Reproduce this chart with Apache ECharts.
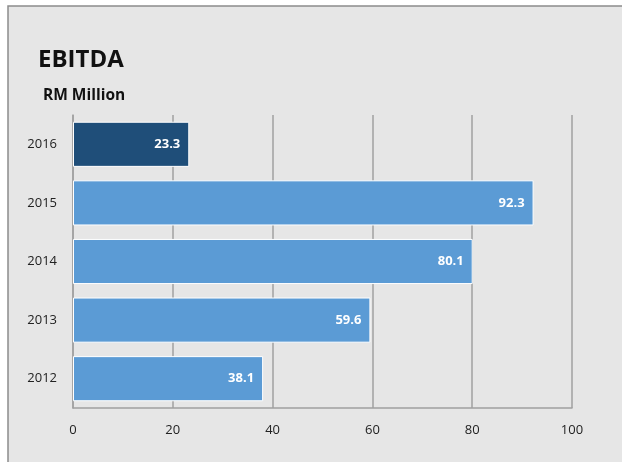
<!DOCTYPE html>
<html><head><meta charset="utf-8">
<script src="https://cdn.jsdelivr.net/npm/echarts@6/dist/echarts.min.js"></script>
<style>html,body{margin:0;padding:0;background:#fff}#c{width:622px;height:462px}</style>
</head><body><div id="c"></div>
<script>
const categories = ['2012', '2013', '2014', '2015', '2016'];
const values = [38.1, 59.6, 80.1, 92.3, 23.3];
const highlightCategory = '2016';
const xTicks = [0, 20, 40, 60, 80, 100];

const chart = echarts.init(document.getElementById('c'));
const font = '"Open Sans", "Liberation Sans", sans-serif';
chart.setOption({
  backgroundColor: '#ffffff',
  animation: false,
  graphic: [
    {type: 'rect', shape: {x: 8, y: 6, width: 640, height: 480}, style: {fill: '#e6e6e6', stroke: '#8c8c8c', lineWidth: 1.5}, z: -10}
  ],
  title: [
    {text: 'EBITDA', left: 33, top: 43, textStyle: {fontFamily: font, fontSize: 24, fontWeight: 'bold', color: '#111'}},
    {text: 'RM Million', left: 38, top: 83, textStyle: {fontFamily: font, fontSize: 15.5, fontWeight: 'bold', color: '#111'}}
  ],
  grid: {left: 73, right: 50, top: 115, bottom: 54, containLabel: false},
  xAxis: {
    type: 'value', min: xTicks[0], max: xTicks[xTicks.length - 1], interval: 20,
    axisLine: {show: true, lineStyle: {color: '#a0a0a0', width: 1.5}},
    axisTick: {show: false},
    axisLabel: {fontFamily: font, fontSize: 13, color: '#222', margin: 16},
    splitLine: {show: true, lineStyle: {color: '#a0a0a0', width: 1.5}}
  },
  yAxis: {
    type: 'category', data: categories,
    axisLine: {show: true, lineStyle: {color: '#a0a0a0', width: 1.5}},
    axisTick: {show: false},
    axisLabel: {fontFamily: font, fontSize: 13, color: '#222', margin: 16}
  },
  series: [{
    type: 'bar',
    data: values.map((v, i) => ({value: v, itemStyle: {color: categories[i] === highlightCategory ? '#1f4e79' : '#5b9bd5'}})),
    barCategoryGap: '23%',
    itemStyle: {borderColor: '#ffffff', borderWidth: 1},
    label: {show: true, position: 'insideRight', distance: 9, fontFamily: font, fontSize: 13, fontWeight: 'bold', color: '#ffffff', formatter: p => p.value.toFixed(1)}
  }]
});
</script></body></html>
